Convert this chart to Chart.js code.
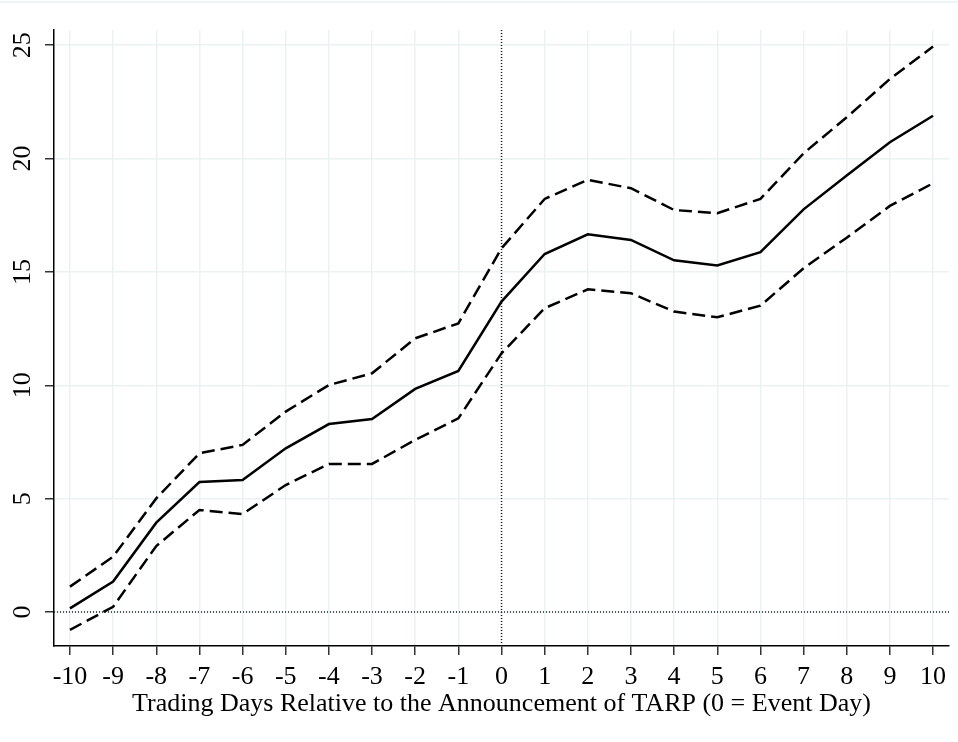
<!DOCTYPE html>
<html>
<head>
<meta charset="utf-8">
<script src="https://cdn.jsdelivr.net/npm/chart.js@4/dist/chart.umd.min.js"></script>
<style>
  html, body { margin: 0; padding: 0; background: #fff; }
  #wrap { width: 958px; height: 742px; }
</style>
</head>
<body>
<div id="wrap"><canvas id="tarpChart"></canvas></div>
<script>
// Cumulative abnormal returns around TARP announcement
const days = [-10, -9, -8, -7, -6, -5, -4, -3, -2, -1, 0, 1, 2, 3, 4, 5, 6, 7, 8, 9, 10];
const estimate = [0.16, 1.34, 3.94, 5.73, 5.82, 7.22, 8.29, 8.51, 9.84, 10.63, 13.69,
    15.79, 16.66, 16.41, 15.51, 15.28, 15.87, 17.76, 19.25, 20.72, 21.89];
const upperBand = [1.12, 2.44, 5.01, 7.0, 7.37, 8.84, 10.01, 10.53, 12.07, 12.73, 16.04,
    18.22, 19.06, 18.69, 17.73, 17.59, 18.22, 20.23, 21.82, 23.51, 24.94];
const lowerBand = [-0.79, 0.23, 2.91, 4.5, 4.32, 5.6, 6.53, 6.53, 7.59, 8.54, 11.41,
    13.4, 14.23, 14.06, 13.25, 13.0, 13.51, 15.16, 16.51, 17.91, 18.91];
const xTicks = days;
const yTicks = [0, 5, 10, 15, 20, 25];

const serif = "'Liberation Serif', 'Times New Roman', serif";
const gridColor = "#eaf2f3";

function toPoints(values) {
    return days.map((d, i) => ({ x: d, y: values[i] }));
}

// dotted reference lines at x = 0 and y = 0, plus faint frame line on top
const refLines = {
    id: "refLines",
    beforeDatasetsDraw(chart) {
        const { ctx, chartArea, scales } = chart;
        const x0 = scales.x.getPixelForValue(0);
        const y0 = scales.y.getPixelForValue(0);
        ctx.save();
        ctx.strokeStyle = "#222";
        ctx.lineWidth = 1.5;
        ctx.setLineDash([1, 2]);
        ctx.beginPath();
        ctx.moveTo(x0, chartArea.top);
        ctx.lineTo(x0, chartArea.bottom);
        ctx.moveTo(chartArea.left, y0);
        ctx.lineTo(chartArea.right, y0);
        ctx.stroke();
        ctx.setLineDash([]);
        ctx.strokeStyle = gridColor;
        ctx.lineWidth = 1.5;
        ctx.beginPath();
        ctx.moveTo(0, 2);
        ctx.lineTo(chart.width, 2);
        ctx.stroke();
        ctx.restore();
    },
};

// y tick labels, rotated to read bottom-to-top like the original
const yLabels = {
    id: "yLabels",
    afterDraw(chart) {
        const { ctx, scales } = chart;
        ctx.save();
        ctx.fillStyle = "#000";
        ctx.font = "26px " + serif;
        ctx.textAlign = "center";
        ctx.textBaseline = "middle";
        yTicks.forEach((v) => {
            const py = scales.y.getPixelForValue(v);
            ctx.save();
            ctx.translate(23, py);
            ctx.rotate(-Math.PI / 2);
            ctx.fillText(String(v), 0, 0);
            ctx.restore();
        });
        ctx.restore();
    },
};

const ctx = document.getElementById("tarpChart").getContext("2d");
new Chart(ctx, {
    type: "line",
    data: {
        datasets: [
            {
                label: "Estimate",
                data: toPoints(estimate),
                borderColor: "#000",
                borderWidth: 2.5,
                pointRadius: 0,
                tension: 0,
            },
            {
                label: "Upper 95% CI",
                data: toPoints(upperBand),
                borderColor: "#000",
                borderWidth: 2.5,
                borderDash: [13, 6],
                pointRadius: 0,
                tension: 0,
            },
            {
                label: "Lower 95% CI",
                data: toPoints(lowerBand),
                borderColor: "#000",
                borderWidth: 2.5,
                borderDash: [13, 6],
                pointRadius: 0,
                tension: 0,
            },
        ],
    },
    options: {
        responsive: true,
        maintainAspectRatio: false,
        animation: false,
        layout: { padding: { top: 30, right: 9, left: 0, bottom: 0 } },
        plugins: {
            legend: { display: false },
            tooltip: { enabled: false },
        },
        scales: {
            x: {
                type: "linear",
                min: -10.37,
                max: 10.37,
                afterBuildTicks: (s) => { s.ticks = xTicks.map((v) => ({ value: v })); },
                afterFit: (s) => { s.height = 96; },
                ticks: {
                    color: "#000",
                    font: { family: serif, size: 26 },
                    padding: 7,
                    maxRotation: 0,
                    autoSkip: false,
                },
                grid: {
                    color: gridColor,
                    lineWidth: 1.5,
                    tickColor: "#333",
                    tickLength: 9,
                    tickWidth: 1.5,
                },
                border: { display: true, color: "#000", width: 1.5 },
                title: {
                    display: true,
                    text: "Trading Days Relative to the Announcement of TARP (0 = Event Day)",
                    color: "#000",
                    font: { family: serif, size: 26 },
                    padding: { top: 0, bottom: 22 },
                },
            },
            y: {
                type: "linear",
                min: -1.5,
                max: 25.67,
                afterBuildTicks: (s) => { s.ticks = yTicks.map((v) => ({ value: v })); },
                afterFit: (s) => { s.width = 54; },
                ticks: { display: false },
                grid: {
                    color: gridColor,
                    lineWidth: 1.5,
                    tickColor: "#333",
                    tickLength: 9,
                    tickWidth: 1.5,
                },
                border: { display: true, color: "#000", width: 1.5 },
            },
        },
    },
    plugins: [refLines, yLabels],
});
</script>
</body>
</html>
